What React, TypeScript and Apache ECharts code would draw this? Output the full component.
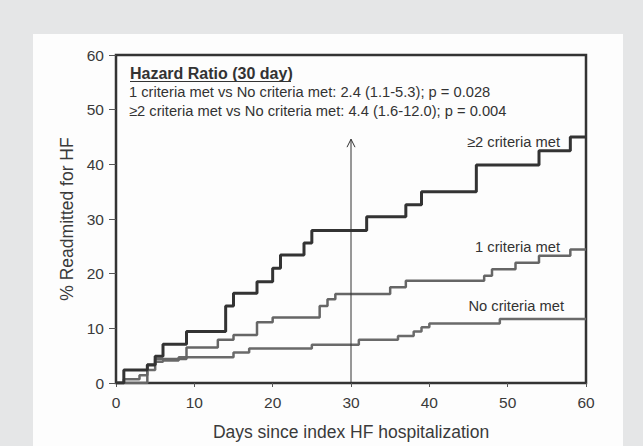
import React, { useEffect, useRef } from "react";
import * as echarts from "echarts";

// ≥2 criteria met
const twoPlusDays = [0, 1, 4, 5, 6, 9, 14, 15, 18, 20, 21, 24, 25, 32, 37, 39, 46, 54, 58, 60];
const twoPlusVals = [0, 2.4, 3.3, 4.9, 7.1, 9.4, 14.1, 16.4, 18.5, 21.0, 23.4, 25.6, 27.9, 30.4, 32.6, 35.0, 39.9, 42.5, 45.0, 45.0];

// 1 criteria met
const oneDays = [0, 4, 5, 9, 13, 15, 18, 20, 26, 27, 28, 35, 37, 47, 48, 51, 54, 58, 60];
const oneVals = [0, 3.4, 4.4, 6.5, 7.9, 8.8, 11.1, 12.0, 14.1, 15.3, 16.3, 17.5, 18.7, 19.6, 20.8, 22.0, 23.3, 24.4, 24.4];

// No criteria met
const noneDays = [0, 1, 3, 4, 5, 6, 8, 15, 17, 25, 31, 36, 38, 39, 40, 49, 60];
const noneVals = [0, 0.7, 1.4, 2.4, 3.9, 4.1, 4.7, 5.6, 6.3, 7.0, 7.9, 8.6, 9.4, 10.2, 10.9, 11.7, 11.7];

const arrowDay = 30;
const arrowTop = 44.6;

const xTicks = [0, 10, 20, 30, 40, 50, 60];
const yTicks = [0, 10, 20, 30, 40, 50, 60];

const hrTitle = "Hazard Ratio (30 day)";
const hrLine1 = "1 criteria met vs No criteria met: 2.4 (1.1-5.3); p = 0.028";
const hrLine2 = "≥2 criteria met vs No criteria met: 4.4 (1.6-12.0); p = 0.004";

const FONT = "'Liberation Sans', Arial, sans-serif";

function pairs(d: number[], v: number[]) {
  return d.map((x, i) => [x, v[i]]);
}

export default function App() {
  const ref = useRef<HTMLDivElement>(null);
  useEffect(() => {
    if (!ref.current) return;
    const chart = echarts.init(ref.current, undefined, { renderer: "svg" });
    const stepSeries = (name: string, data: number[][], color: string, width: number) => ({
      name,
      type: "line",
      step: "end",
      data,
      symbol: "none",
      lineStyle: { color, width },
      z: 3,
    });
    chart.setOption({
      animation: false,
      backgroundColor: "#e5e6e7",
      textStyle: { fontFamily: FONT },
      grid: {
        left: 116,
        right: 57,
        top: 55,
        bottom: 62,
        show: true,
        borderColor: "#333",
        borderWidth: 2.5,
        backgroundColor: "#fdfdfd",
      },
      xAxis: {
        type: "value",
        min: xTicks[0],
        max: xTicks[xTicks.length - 1],
        interval: 10,
        name: "Days since index HF hospitalization",
        nameLocation: "middle",
        nameGap: 40,
        nameTextStyle: { fontSize: 17.5, color: "#3a3a3a", fontFamily: FONT },
        axisLine: { show: false },
        axisTick: { show: true, length: 4, lineStyle: { color: "#555", width: 1 } },
        axisLabel: { fontSize: 15.5, color: "#3a3a3a", margin: 11, fontFamily: FONT },
        splitLine: { show: false },
      },
      yAxis: {
        type: "value",
        min: yTicks[0],
        max: yTicks[yTicks.length - 1],
        interval: 10,
        name: "% Readmitted for HF",
        nameLocation: "middle",
        nameGap: 39,
        nameTextStyle: { fontSize: 17.5, color: "#3a3a3a", fontFamily: FONT },
        axisLine: { show: false },
        axisTick: { show: true, length: 7, lineStyle: { color: "#555", width: 1 } },
        axisLabel: { fontSize: 15.5, color: "#3a3a3a", margin: 12, fontFamily: FONT },
        splitLine: { show: false },
      },
      graphic: [
        {
          type: "rect",
          z: -10,
          silent: true,
          shape: { x: 33, y: 34, width: 590, height: 412 },
          style: { fill: "#fdfdfd" },
        },
        {
          type: "text",
          x: 130,
          y: 73,
          z: 10,
          style: { text: hrTitle, font: `bold 16px ${FONT}`, fill: "#333", textVerticalAlign: "middle" },
        },
        {
          type: "line",
          z: 10,
          shape: { x1: 130, y1: 81.5, x2: 291, y2: 81.5 },
          style: { stroke: "#333", lineWidth: 1 },
        },
        {
          type: "text",
          x: 129,
          y: 92,
          z: 10,
          style: { text: hrLine1, font: `14.7px ${FONT}`, fill: "#333", textVerticalAlign: "middle" },
        },
        {
          type: "text",
          x: 129,
          y: 111,
          z: 10,
          style: { text: hrLine2, font: `14.7px ${FONT}`, fill: "#333", textVerticalAlign: "middle" },
        },
        {
          type: "text",
          x: 560,
          y: 142,
          z: 10,
          style: { text: "≥2 criteria met", font: `14.7px ${FONT}`, fill: "#333", textAlign: "right", textVerticalAlign: "middle" },
        },
        {
          type: "text",
          x: 560,
          y: 247,
          z: 10,
          style: { text: "1 criteria met", font: `14.7px ${FONT}`, fill: "#333", textAlign: "right", textVerticalAlign: "middle" },
        },
        {
          type: "text",
          x: 564,
          y: 306,
          z: 10,
          style: { text: "No criteria met", font: `14.7px ${FONT}`, fill: "#333", textAlign: "right", textVerticalAlign: "middle" },
        },
      ],
      series: [
        stepSeries("No criteria met", pairs(noneDays, noneVals), "#6a6a6a", 2.5),
        stepSeries("1 criteria met", pairs(oneDays, oneVals), "#666", 2.5),
        stepSeries("≥2 criteria met", pairs(twoPlusDays, twoPlusVals), "#333", 3),
        {
          type: "custom",
          z: 4,
          data: [[arrowDay, 0, arrowTop]],
          renderItem: (params: any, api: any) => {
            const b = api.coord([api.value(0), api.value(1)]);
            const t = api.coord([api.value(0), api.value(2)]);
            return {
              type: "group",
              children: [
                {
                  type: "line",
                  shape: { x1: b[0], y1: b[1], x2: t[0], y2: t[1] },
                  style: { stroke: "#333", lineWidth: 1 },
                },
                {
                  type: "polyline",
                  shape: { points: [[t[0] - 4, t[1] + 8], [t[0], t[1]], [t[0] + 4, t[1] + 8]] },
                  style: { stroke: "#333", lineWidth: 1, fill: "none" },
                },
              ],
            };
          },
        },
      ],
    });
    return () => chart.dispose();
  }, []);
  return (
    <div
      ref={ref}
      style={{ position: "fixed", left: 0, top: 0, width: 643, height: 446 }}
    />
  );
}
